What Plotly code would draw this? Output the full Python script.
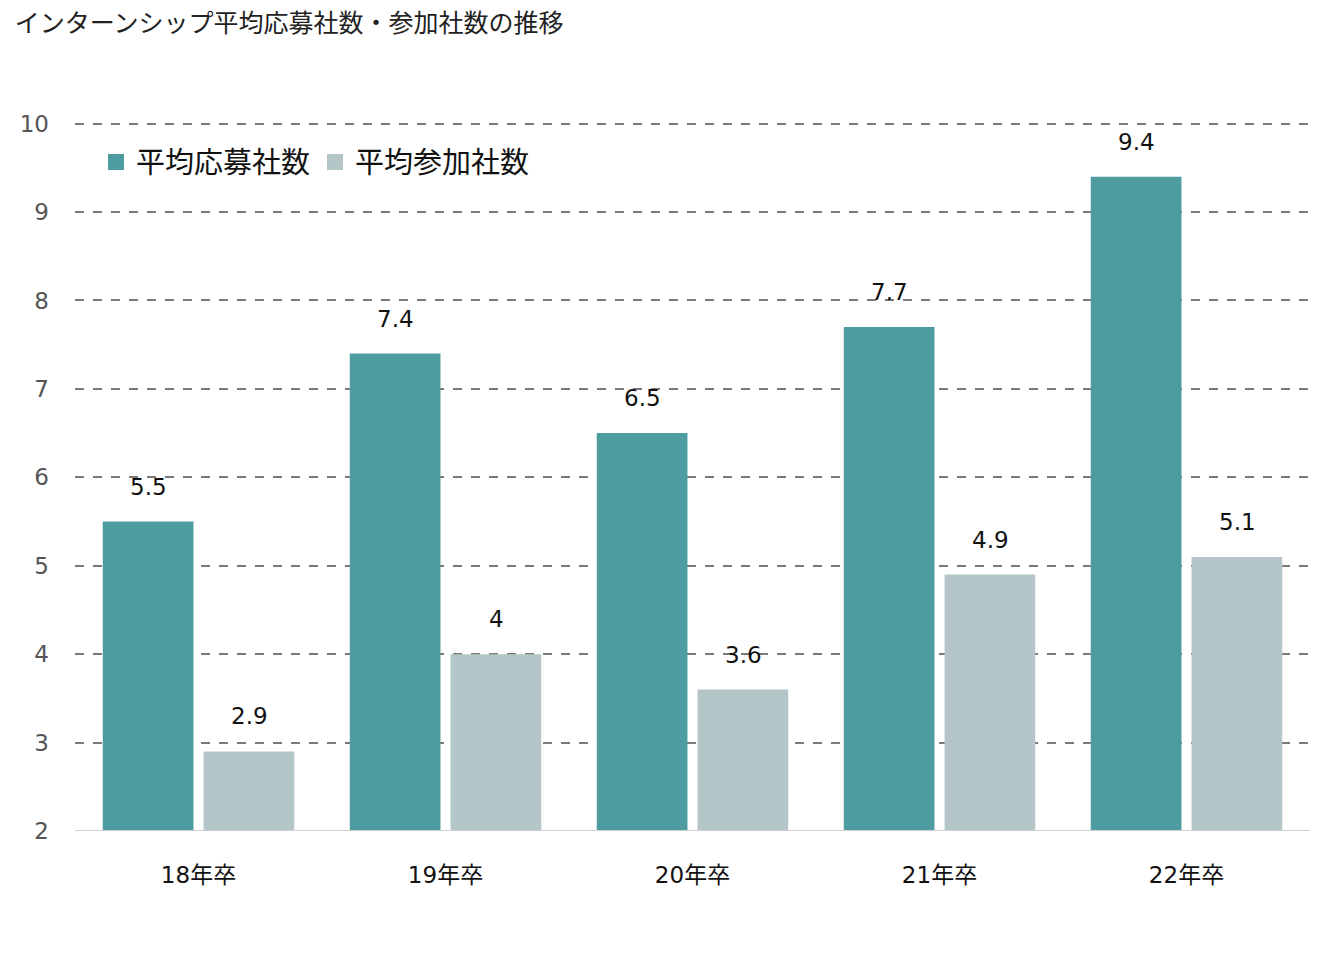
import plotly.graph_objects as go

categories = ["18年卒", "19年卒", "20年卒", "21年卒", "22年卒"]
applied = [5.5, 7.4, 6.5, 7.7, 9.4]
attended = [2.9, 4, 3.6, 4.9, 5.1]
series_names = ["平均応募社数", "平均参加社数"]
colors = ["#4E9CA0", "#B4C6C8"]
CJK = "Noto Sans CJK JP"
MIX = "DejaVu Sans, Noto Sans CJK JP"

fig = go.Figure()
for name, vals, col in zip(series_names, [applied, attended], colors):
    fig.add_trace(go.Bar(x=categories, y=vals, name=name, marker=dict(color=col, line=dict(width=0)),
                         showlegend=False, legendgroup=name))
for name, col in zip(series_names, colors):
    fig.add_trace(go.Scatter(x=[None], y=[None], mode="markers", name=name, legendgroup=name,
                             marker=dict(symbol="square", size=20, color=col)))

annotations = []
for vals, shift in [(applied, -50.5), (attended, 50.5)]:
    for c, v in zip(categories, vals):
        annotations.append(dict(x=c, y=v, xref="x", yref="y", text=f"{v:g}", showarrow=False,
                                xshift=shift, yshift=35, font=dict(size=23, color="#111", family=MIX)))

fig.update_layout(
    width=1326, height=972,
    margin=dict(l=64, r=24, t=113, b=149),
    paper_bgcolor="white", plot_bgcolor="white",
    font=dict(family=MIX),
    title=dict(text="インターンシップ平均応募社数・参加社数の推移", x=0.005, xanchor="left",
               y=0.9846, yanchor="middle",
               font=dict(size=25, color="#222", family=CJK)),
    barmode="group", bargap=0.184, bargroupgap=0.1,
    legend=dict(orientation="h", x=0.017, y=0.942, xanchor="left", yanchor="middle",
                font=dict(size=29, color="#111", family=CJK), bgcolor="rgba(0,0,0,0)",
                traceorder="normal", itemsizing="trace"),
    xaxis=dict(showgrid=False, tickfont=dict(size=23, color="#111", family=MIX), ticks="",
               showline=False, ticklabelstandoff=28),
    yaxis=dict(range=[2, 10.03], tickvals=[2, 3, 4, 5, 6, 7, 8, 9, 10], showgrid=True, gridcolor="#7a7a7a",
               griddash="dash", gridwidth=1.5, zeroline=False,
               tickfont=dict(size=23, color="#555", family=MIX), ticklabelstandoff=25, showline=False),
    annotations=annotations,
    shapes=[dict(type="line", xref="paper", yref="y", x0=0, x1=1, y0=2, y1=2,
                 line=dict(color="#d0d0d0", width=2), layer="above")],
)
fig.write_html("out.html")
